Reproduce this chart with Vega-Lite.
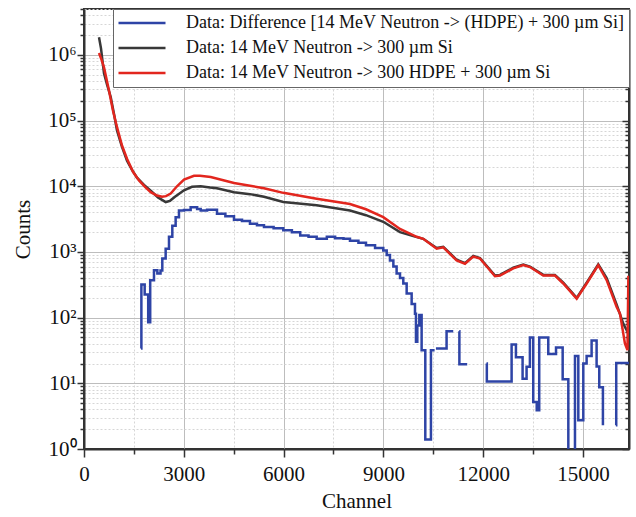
{
  "$schema": "https://vega.github.io/schema/vega-lite/v6.json",
  "width": 545,
  "height": 440,
  "autosize": {"type": "none"},
  "padding": {"left": 84, "top": 9, "right": 7, "bottom": 68},
  "background": "white",
  "config": {
    "font": "Liberation Serif",
    "axis": {"labelFont": "Liberation Serif", "titleFont": "Liberation Serif"},
    "legend": {"labelFont": "Liberation Serif", "titleFont": "Liberation Serif"},
    "view": {"stroke": "#333333", "strokeWidth": 2}
  },
  "datasets": {
    "d": [
      {"s":"A","c":1715,"n":34},{"s":"A","c":1725,"n":320},{"s":"A","c":1824,"n":225},{"s":"A","c":1930,"n":85},{"s":"A","c":1990,"n":370},{"s":"A","c":2104,"n":525},{"s":"A","c":2205,"n":470},{"s":"A","c":2300,"n":520},{"s":"A","c":2354,"n":794},{"s":"A","c":2455,"n":1120},{"s":"A","c":2555,"n":1700},{"s":"A","c":2655,"n":2510},{"s":"A","c":2755,"n":3390},{"s":"A","c":2855,"n":4270},{"s":"A","c":3006,"n":4370},{"s":"A","c":3206,"n":4790},{"s":"A","c":3400,"n":4500},{"s":"A","c":3508,"n":4270},{"s":"A","c":3700,"n":4400},{"s":"A","c":3998,"n":3800},{"s":"A","c":4250,"n":3500},{"s":"A","c":4509,"n":3090},{"s":"A","c":4750,"n":2950},{"s":"A","c":4990,"n":2690},{"s":"A","c":5200,"n":2550},{"s":"A","c":5411,"n":2400},{"s":"A","c":5700,"n":2300},{"s":"A","c":5991,"n":2140},{"s":"A","c":6250,"n":2000},{"s":"A","c":6500,"n":1780},{"s":"A","c":6750,"n":1700},{"s":"A","c":6995,"n":1585},{"s":"A","c":7300,"n":1700},{"s":"A","c":7550,"n":1620},{"s":"A","c":7800,"n":1585},{"s":"A","c":7996,"n":1480},{"s":"A","c":8250,"n":1380},{"s":"A","c":8477,"n":1260},{"s":"A","c":8750,"n":1150},{"s":"A","c":8997,"n":1050},{"s":"A","c":9100,"n":900},{"s":"A","c":9198,"n":740},{"s":"A","c":9300,"n":600},{"s":"A","c":9398,"n":468},{"s":"A","c":9500,"n":400},{"s":"A","c":9599,"n":331},{"s":"A","c":9700,"n":234},{"s":"A","c":9850,"n":162},{"s":"A","c":9950,"n":115},{"s":"A","c":9980,"n":43},{"s":"A","c":10020,"n":76},{"s":"A","c":10080,"n":110},{"s":"A","c":10150,"n":32},{"s":"A","c":10260,"n":1.4},{"s":"A","c":10430,"n":32},{"s":"A","c":10540,"n":32},{"s":"A","c":10560,"n":null},{"s":"A","c":10580,"n":34},{"s":"A","c":10900,"n":62},{"s":"A","c":11100,"n":62},{"s":"A","c":11150,"n":null},{"s":"A","c":11280,"n":62},{"s":"A","c":11285,"n":19.5},{"s":"A","c":11520,"n":19.5},{"s":"A","c":11600,"n":null},{"s":"A","c":12100,"n":20},{"s":"A","c":12110,"n":10.7},{"s":"A","c":12855,"n":39},{"s":"A","c":12985,"n":25},{"s":"A","c":13185,"n":11.7},{"s":"A","c":13305,"n":17.8},{"s":"A","c":13405,"n":50},{"s":"A","c":13505,"n":5.2},{"s":"A","c":13610,"n":3.9},{"s":"A","c":13685,"n":50},{"s":"A","c":13957,"n":28},{"s":"A","c":14190,"n":35},{"s":"A","c":14390,"n":11.5},{"s":"A","c":14560,"n":0.6},{"s":"A","c":14760,"n":26},{"s":"A","c":14860,"n":2.75},{"s":"A","c":15010,"n":20},{"s":"A","c":15110,"n":26},{"s":"A","c":15260,"n":45},{"s":"A","c":15410,"n":18},{"s":"A","c":15490,"n":8.7},{"s":"A","c":15600,"n":2.3},{"s":"A","c":15700,"n":null},{"s":"A","c":15990,"n":2.3},{"s":"A","c":16000,"n":20.4},{"s":"A","c":16384,"n":20.4},
      {"s":"B","c":451,"n":1860000},{"s":"B","c":511,"n":1260000},{"s":"B","c":601,"n":525000},{"s":"B","c":691,"n":355000},{"s":"B","c":803,"n":229000},{"s":"B","c":902,"n":126000},{"s":"B","c":992,"n":70800},{"s":"B","c":1142,"n":39800},{"s":"B","c":1293,"n":24500},{"s":"B","c":1443,"n":17800},{"s":"B","c":1593,"n":13500},{"s":"B","c":1804,"n":10500},{"s":"B","c":2014,"n":8500},{"s":"B","c":2224,"n":6760},{"s":"B","c":2456,"n":5750},{"s":"B","c":2585,"n":6000},{"s":"B","c":2735,"n":6900},{"s":"B","c":3006,"n":8700},{"s":"B","c":3246,"n":9800},{"s":"B","c":3508,"n":10000},{"s":"B","c":3788,"n":9550},{"s":"B","c":3998,"n":9330},{"s":"B","c":4509,"n":8130},{"s":"B","c":4990,"n":7590},{"s":"B","c":5411,"n":6920},{"s":"B","c":5991,"n":5750},{"s":"B","c":6995,"n":5130},{"s":"B","c":7996,"n":4270},{"s":"B","c":8477,"n":3630},{"s":"B","c":8997,"n":2880},{"s":"B","c":9499,"n":2000},{"s":"B","c":9899,"n":1740},{"s":"B","c":10199,"n":1585},{"s":"B","c":10602,"n":1150},{"s":"B","c":10801,"n":1200},{"s":"B","c":11203,"n":760},{"s":"B","c":11453,"n":676},{"s":"B","c":11702,"n":870},{"s":"B","c":11904,"n":810},{"s":"B","c":12355,"n":437},{"s":"B","c":12505,"n":447},{"s":"B","c":12905,"n":575},{"s":"B","c":13206,"n":645},{"s":"B","c":13407,"n":600},{"s":"B","c":13807,"n":447},{"s":"B","c":14158,"n":447},{"s":"B","c":14408,"n":340},{"s":"B","c":14811,"n":200},{"s":"B","c":15111,"n":340},{"s":"B","c":15460,"n":645},{"s":"B","c":15712,"n":400},{"s":"B","c":16013,"n":158},{"s":"B","c":16212,"n":81},{"s":"B","c":16323,"n":63},{"s":"B","c":16384,"n":63},
      {"s":"C","c":451,"n":1070000},{"s":"C","c":511,"n":890000},{"s":"C","c":601,"n":646000},{"s":"C","c":751,"n":288000},{"s":"C","c":872,"n":141000},{"s":"C","c":992,"n":79400},{"s":"C","c":1142,"n":41700},{"s":"C","c":1293,"n":26300},{"s":"C","c":1473,"n":16600},{"s":"C","c":1653,"n":12300},{"s":"C","c":1834,"n":9770},{"s":"C","c":2005,"n":8130},{"s":"C","c":2194,"n":7240},{"s":"C","c":2345,"n":6920},{"s":"C","c":2465,"n":7080},{"s":"C","c":2606,"n":7760},{"s":"C","c":2796,"n":10000},{"s":"C","c":3006,"n":12600},{"s":"C","c":3307,"n":14450},{"s":"C","c":3487,"n":14450},{"s":"C","c":3809,"n":13800},{"s":"C","c":4509,"n":11200},{"s":"C","c":4990,"n":10200},{"s":"C","c":5411,"n":9330},{"s":"C","c":5991,"n":7940},{"s":"C","c":6995,"n":6460},{"s":"C","c":7996,"n":5370},{"s":"C","c":8477,"n":4470},{"s":"C","c":8997,"n":3390},{"s":"C","c":9499,"n":2240},{"s":"C","c":10001,"n":1700},{"s":"C","c":10199,"n":1585},{"s":"C","c":10602,"n":1120},{"s":"C","c":10801,"n":1175},{"s":"C","c":11203,"n":741},{"s":"C","c":11453,"n":660},{"s":"C","c":11702,"n":851},{"s":"C","c":11904,"n":794},{"s":"C","c":12355,"n":427},{"s":"C","c":12505,"n":437},{"s":"C","c":12905,"n":562},{"s":"C","c":13206,"n":631},{"s":"C","c":13407,"n":589},{"s":"C","c":13807,"n":437},{"s":"C","c":14158,"n":437},{"s":"C","c":14408,"n":331},{"s":"C","c":14811,"n":195},{"s":"C","c":15111,"n":331},{"s":"C","c":15460,"n":631},{"s":"C","c":15712,"n":372},{"s":"C","c":16013,"n":145},{"s":"C","c":16113,"n":115},{"s":"C","c":16263,"n":40},{"s":"C","c":16338,"n":32},{"s":"C","c":16365,"n":415},{"s":"C","c":16384,"n":415}
    ]
  },
  "data": {"name": "d"},
  "layer": [
    {
      "transform": [{"filter": "datum.s !== 'A'"}],
      "mark": {"type": "line", "strokeWidth": 2.5, "clip": true, "interpolate": "linear"},
      "encoding": {
        "x": {
          "field": "c", "type": "quantitative",
          "scale": {"domain": [0, 16384], "nice": false, "zero": false},
          "axis": {
            "values": [0, 1500, 3000, 4500, 6000, 7500, 9000, 10500, 12000, 13500, 15000],
            "labelExpr": "datum.value % 3000 === 0 ? format(datum.value, 'd') : ''",
            "title": "Channel",
            "titleFont": "Liberation Serif", "labelFont": "Liberation Serif",
            "titleFontSize": 21, "titleFontWeight": "normal", "titleColor": "#111111", "titlePadding": 6,
            "labelFontSize": 21, "labelColor": "#111111", "labelPadding": 6, "labelOverlap": false, "labelFlush": false, "labelBound": false,
            "tickSize": {"condition": {"test": "datum.value % 3000 !== 0", "value": 5}, "value": 8},
            "tickColor": "#333333", "tickWidth": 1.5,
            "domainColor": "#333333", "domainWidth": 2,
            "grid": true,
            "gridColor": {"condition": {"test": "datum.value % 3000 !== 0", "value": "#d6d6d6"}, "value": "#bdbdbd"},
            "gridDash": {"condition": {"test": "datum.value % 3000 !== 0", "value": [2, 2]}, "value": []},
            "gridWidth": 1
          }
        },
        "y": {
          "field": "n", "type": "quantitative",
          "scale": {"type": "log", "domain": [1, 5000000], "nice": false},
          "axis": {
            "orient": "left",
            "values": [1,2,3,4,5,6,7,8,9,10,20,30,40,50,60,70,80,90,100,200,300,400,500,600,700,800,900,1000,2000,3000,4000,5000,6000,7000,8000,9000,10000,20000,30000,40000,50000,60000,70000,80000,90000,100000,200000,300000,400000,500000,600000,700000,800000,900000,1000000,2000000,3000000,4000000,5000000],
            "labelExpr": "abs(log(datum.value)/LN10 - round(log(datum.value)/LN10)) < 0.001 ? '10' + ['⁰','¹','²','³','⁴','⁵','⁶'][round(log(datum.value)/LN10)] : ''",
            "title": "Counts",
            "titleFont": "Liberation Serif", "labelFont": "Liberation Serif",
            "titleFontSize": 21, "titleFontWeight": "normal", "titleColor": "#111111", "titlePadding": 14,
            "labelFontSize": 21, "labelColor": "#111111", "labelPadding": 1, "labelOverlap": false, "labelFlush": false, "labelBound": false,
            "tickSize": {"condition": {"test": "abs(log(datum.value)/LN10 - round(log(datum.value)/LN10)) > 0.001", "value": 4}, "value": 7},
            "tickColor": "#333333", "tickWidth": 1.5,
            "domainColor": "#333333", "domainWidth": 2,
            "grid": true,
            "gridColor": {"condition": {"test": "abs(log(datum.value)/LN10 - round(log(datum.value)/LN10)) > 0.001", "value": "#d6d6d6"}, "value": "#bdbdbd"},
            "gridDash": {"condition": {"test": "abs(log(datum.value)/LN10 - round(log(datum.value)/LN10)) > 0.001", "value": [2, 2]}, "value": []},
            "gridWidth": 1
          }
        },
        "color": {
          "field": "s", "type": "nominal",
          "scale": {"domain": ["A", "B", "C"], "range": ["#2e44a6", "#383838", "#e2261e"]},
          "legend": {
            "orient": "top-right", "offset": 0, "title": null,
            "labelExpr": "datum.label === 'A' ? 'Data: Difference [14 MeV Neutron -> (HDPE) + 300 µm Si]' : datum.label === 'B' ? 'Data: 14 MeV Neutron -> 300 µm Si' : 'Data: 14 MeV Neutron -> 300 HDPE + 300 µm Si'",
            "labelFontSize": 18, "labelFont": "Liberation Serif", "labelColor": "#111111", "labelLimit": 0,
            "symbolType": "stroke", "symbolSize": 2209, "symbolStrokeWidth": 2.5, "labelOffset": 19,
            "clipHeight": 20, "rowPadding": 5, "padding": 4,
            "fillColor": "white", "strokeColor": "#666666"
          }
        }
      }
    },
    {
      "transform": [{"filter": "datum.s === 'A'"}],
      "mark": {"type": "line", "strokeWidth": 2.5, "clip": true, "interpolate": "step-after"},
      "encoding": {
        "x": {
          "field": "c", "type": "quantitative",
          "scale": {"domain": [0, 16384], "nice": false, "zero": false}
        },
        "y": {
          "field": "n", "type": "quantitative",
          "scale": {"type": "log", "domain": [1, 5000000], "nice": false},
          "axis": {
            "orient": "right",
            "values": [1,2,3,4,5,6,7,8,9,10,20,30,40,50,60,70,80,90,100,200,300,400,500,600,700,800,900,1000,2000,3000,4000,5000,6000,7000,8000,9000,10000,20000,30000,40000,50000,60000,70000,80000,90000,100000,200000,300000,400000,500000,600000,700000,800000,900000,1000000,2000000,3000000,4000000,5000000],
            "labels": false, "title": null, "grid": false,
            "tickSize": {"condition": {"test": "abs(log(datum.value)/LN10 - round(log(datum.value)/LN10)) > 0.001", "value": -4}, "value": -7},
            "tickColor": "#333333", "tickWidth": 1.5,
            "domainColor": "#333333", "domainWidth": 2
          }
        },
        "color": {
          "field": "s", "type": "nominal",
          "scale": {"domain": ["A", "B", "C"], "range": ["#2e44a6", "#383838", "#e2261e"]},
          "legend": {
            "orient": "top-right", "offset": 0, "title": null,
            "labelExpr": "datum.label === 'A' ? 'Data: Difference [14 MeV Neutron -> (HDPE) + 300 µm Si]' : datum.label === 'B' ? 'Data: 14 MeV Neutron -> 300 µm Si' : 'Data: 14 MeV Neutron -> 300 HDPE + 300 µm Si'",
            "labelFontSize": 18, "labelFont": "Liberation Serif", "labelColor": "#111111", "labelLimit": 0,
            "symbolType": "stroke", "symbolSize": 2209, "symbolStrokeWidth": 2.5, "labelOffset": 19,
            "clipHeight": 20, "rowPadding": 5, "padding": 4,
            "fillColor": "white", "strokeColor": "#666666"
          }
        }
      }
    }
  ],
  "resolve": {"axis": {"y": "independent"}}
}
